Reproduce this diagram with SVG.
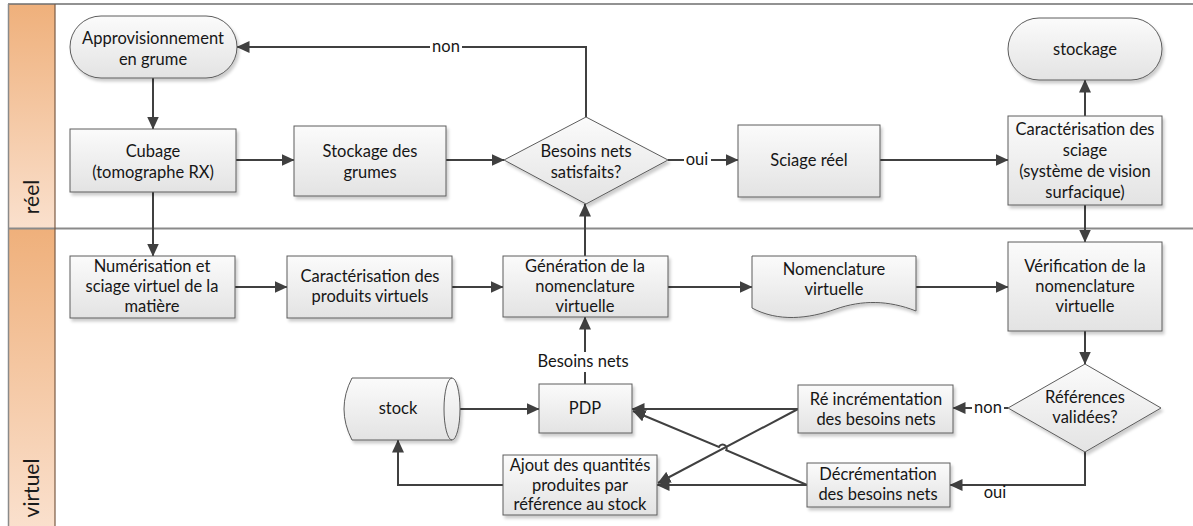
<svg xmlns="http://www.w3.org/2000/svg" width="1193" height="526" viewBox="0 0 1193 526">
<style>
.t{font-family:Lato,"Open Sans","Liberation Sans",sans-serif;font-size:16.5px;fill:#161616;text-anchor:middle}
.lane{font-family:Lato,"Open Sans","Liberation Sans",sans-serif;font-size:21px;fill:#1a1a1a;text-anchor:middle}
.n{fill:url(#ng);stroke:#5c5c5c;stroke-width:1;filter:url(#sh)}
.c{fill:none;stroke:#404040;stroke-width:2}
.a{marker-end:url(#ah)}
.lb{fill:#fff}
</style>
<defs>
<linearGradient id="ng" x1="0" y1="0" x2="0" y2="1">
<stop offset="0" stop-color="#fbfbfb"/>
<stop offset="1" stop-color="#e3e3e3"/>
</linearGradient>
<linearGradient id="hg" x1="0" y1="0" x2="0" y2="1">
<stop offset="0" stop-color="#efb07b"/>
<stop offset="1" stop-color="#fae0cd"/>
</linearGradient>
<filter id="sh" x="-10%" y="-10%" width="130%" height="140%">
<feDropShadow dx="2" dy="3" stdDeviation="1.5" flood-color="#000" flood-opacity="0.2"/>
</filter>
<marker id="ah" viewBox="0 0 13 12" markerWidth="13" markerHeight="12" refX="12.5" refY="6" orient="auto" markerUnits="userSpaceOnUse">
<path d="M0,0 L13,6 L0,12 z" fill="#404040"/>
</marker>
</defs>

<g id="lanes">
<rect x="8" y="4" width="47" height="224" fill="url(#hg)"/>
<rect x="8" y="229" width="47" height="297" fill="url(#hg)"/>
<line x1="8" y1="4" x2="1193" y2="4" stroke="#6e6e6e" stroke-width="1.5"/>
<line x1="8" y1="228.5" x2="1193" y2="228.5" stroke="#8a8a8a" stroke-width="2"/>
<line x1="8.5" y1="4" x2="8.5" y2="526" stroke="#8a8a8a" stroke-width="1.5"/>
<line x1="55" y1="4" x2="55" y2="526" stroke="#7a5a44" stroke-width="1.2"/>
<text class="lane" transform="translate(39,197) rotate(-90)">réel</text>
<text class="lane" transform="translate(39,488) rotate(-90)">virtuel</text>
</g>

<g id="connectors">
<path class="c a" d="M153,78 V129"/>
<path class="c a" d="M236,160 H294"/>
<path class="c a" d="M446,160 H504"/>
<path class="c a" d="M586,117 V47 H237"/>
<rect class="lb" x="430" y="38" width="32" height="18"/>
<text class="t" x="446" y="52">non</text>
<path class="c a" d="M668,160 H738"/>
<rect class="lb" x="684" y="150" width="27" height="18"/>
<text class="t" x="697" y="165">oui</text>
<path class="c a" d="M880,160 H1008"/>
<path class="c a" d="M1085,116 V80"/>
<path class="c a" d="M1085,205 V242"/>
<path class="c a" d="M153,192 V256"/>
<path class="c a" d="M235,287 H287"/>
<path class="c a" d="M452,287 H503"/>
<path class="c a" d="M668,287 H752"/>
<path class="c a" d="M916,287 H1008"/>
<path class="c a" d="M1085,331 V364"/>
<path class="c a" d="M1008,408 H953"/>
<rect class="lb" x="972" y="399" width="32" height="18"/>
<text class="t" x="988" y="413">non</text>
<path class="c a" d="M1085,452 V485 H950"/>
<text class="t" x="995" y="498">oui</text>
<path class="c a" d="M585,384 V317"/>
<rect class="lb" x="535" y="352" width="96" height="20"/>
<text class="t" x="583" y="367">Besoins nets</text>
<path class="c a" d="M585,256 V204"/>
<path class="c a" d="M452,409 H539"/>
<path class="c a" d="M798,409 H632"/>
<path class="c a" d="M798,409 L658,483"/>
<path class="c a" d="M807,485 H657"/>
<path class="c a" d="M807,485 L726.3,450.2 A4,4 0 0 0 718.9,447 L633,411"/>
<path class="c a" d="M503,485 H398 V440"/>
</g>

<g id="approvisionnement">
<rect class="n" x="70" y="16" width="167" height="62" rx="31" ry="31"/>
<text class="t" x="153" y="44">Approvisionnement</text>
<text class="t" x="153" y="65">en grume</text>
</g>
<g id="cubage">
<rect class="n" x="70" y="129" width="166" height="63"/>
<text class="t" x="153" y="157">Cubage</text>
<text class="t" x="153" y="178">(tomographe RX)</text>
</g>
<g id="stockage-grumes">
<rect class="n" x="294" y="126" width="152" height="70"/>
<text class="t" x="370" y="157">Stockage des</text>
<text class="t" x="370" y="178">grumes</text>
</g>
<g id="besoins-satisfaits">
<path class="n" d="M504,160 L586,117 L668,160 L586,204 Z"/>
<text class="t" x="586" y="157">Besoins nets</text>
<text class="t" x="586" y="178">satisfaits?</text>
</g>
<g id="sciage-reel">
<rect class="n" x="738" y="125" width="142" height="72"/>
<text class="t" x="809" y="166">Sciage réel</text>
</g>
<g id="caracterisation-sciage">
<rect class="n" x="1008" y="116" width="154" height="89"/>
<text class="t" x="1085" y="135">Caractérisation des</text>
<text class="t" x="1085" y="156">sciage</text>
<text class="t" x="1085" y="177">(système de vision</text>
<text class="t" x="1085" y="198">surfacique)</text>
</g>
<g id="stockage">
<rect class="n" x="1008" y="18" width="154" height="62" rx="31" ry="31"/>
<text class="t" x="1085" y="55">stockage</text>
</g>
<g id="numerisation">
<rect class="n" x="70" y="256" width="165" height="62"/>
<text class="t" x="152" y="272">Numérisation et</text>
<text class="t" x="152" y="292">sciage virtuel de la</text>
<text class="t" x="152" y="312">matière</text>
</g>
<g id="caracterisation-produits">
<rect class="n" x="287" y="256" width="165" height="62"/>
<text class="t" x="370" y="282">Caractérisation des</text>
<text class="t" x="370" y="302">produits virtuels</text>
</g>
<g id="generation">
<rect class="n" x="503" y="256" width="165" height="61"/>
<text class="t" x="585" y="272">Génération de la</text>
<text class="t" x="585" y="292">nomenclature</text>
<text class="t" x="585" y="312">virtuelle</text>
</g>
<g id="nomenclature">
<path class="n" d="M752,256 H916 V311 C888,300 862,300 836,309 C808,319 778,322 752,308 Z"/>
<text class="t" x="834" y="275">Nomenclature</text>
<text class="t" x="834" y="295">virtuelle</text>
</g>
<g id="verification">
<rect class="n" x="1008" y="242" width="154" height="89"/>
<text class="t" x="1085" y="272">Vérification de la</text>
<text class="t" x="1085" y="292">nomenclature</text>
<text class="t" x="1085" y="312">virtuelle</text>
</g>
<g id="references">
<path class="n" d="M1008,408 L1085,364 L1161,408 L1085,452 Z"/>
<text class="t" x="1085" y="403">Références</text>
<text class="t" x="1085" y="423">validées?</text>
</g>
<g id="re-incrementation">
<rect class="n" x="798" y="385" width="155" height="48"/>
<text class="t" x="876" y="405">Ré incrémentation</text>
<text class="t" x="876" y="425">des besoins nets</text>
</g>
<g id="decrementation">
<rect class="n" x="807" y="463" width="143" height="44"/>
<text class="t" x="878" y="480">Décrémentation</text>
<text class="t" x="878" y="500">des besoins nets</text>
</g>
<g id="pdp">
<rect class="n" x="539" y="384" width="93" height="49"/>
<text class="t" x="585" y="414">PDP</text>
</g>
<g id="ajout">
<rect class="n" x="503" y="455" width="154" height="60"/>
<text class="t" x="580" y="471">Ajout des quantités</text>
<text class="t" x="580" y="491">produites par</text>
<text class="t" x="580" y="510">référence au stock</text>
</g>
<g id="stock">
<path class="n" d="M352,378 H452 A8,31 0 0 1 452,440 H352 Q336,409 352,378 Z"/>
<path d="M452,378 A8,31 0 0 0 452,440" fill="none" stroke="#5c5c5c" stroke-width="1"/>
<text class="t" x="398" y="414">stock</text>
</g>
</svg>
